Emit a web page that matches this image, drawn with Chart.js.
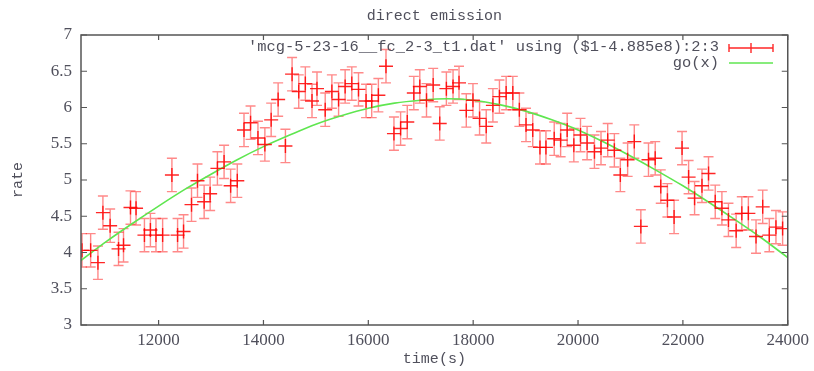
<!DOCTYPE html>
<html>
<head>
<meta charset="utf-8">
<script src="https://cdn.jsdelivr.net/npm/chart.js@4/dist/chart.umd.min.js"></script>
<style>
  html, body { margin: 0; padding: 0; background: #fff; }
  #wrap { width: 814px; height: 371px; }
</style>
</head>
<body>
<div id="wrap"><canvas id="c" width="814" height="371"></canvas></div>
<script>
// ---- data ----
const chartTitle = 'direct emission';
const xAxisTitle = 'time(s)';
const yAxisTitle = 'rate';
const legendLabels = ["'mcg-5-23-16__fc_2-3_t1.dat' using ($1-4.885e8):2:3", 'go(x)'];

const timeValues = [
  10539, 10704, 10843, 10938, 11076, 11236, 11331, 11464, 11570, 11730, 11844, 11950, 12077, 12254, 12362, 12476, 12628, 12742,
  12869, 12983, 13122, 13249, 13374, 13501, 13629, 13754, 13895, 14027, 14147, 14280, 14419, 14546, 14673, 14799, 14926, 15021,
  15178, 15305, 15433, 15558, 15685, 15813, 15957, 16065, 16192, 16337, 16489, 16616, 16743, 16868, 16982, 17110, 17237,
  17362, 17489, 17616, 17730, 17869, 17996, 18122, 18249, 18376, 18501, 18629, 18756, 18881, 19008, 19136, 19274, 19388, 19546,
  19668, 19793, 19920, 20047, 20173, 20313, 20438, 20566, 20693, 20807, 20946, 21073, 21198, 21344, 21472, 21578, 21705, 21832,
  21984, 22109, 22223, 22364, 22489, 22617, 22744, 22869, 23016, 23124, 23249, 23395, 23522, 23648, 23775, 23902
];
const rateValues = [
  4.03, 4.03, 3.86, 4.55, 4.37, 4.05, 4.10, 4.62, 4.61, 4.24, 4.31, 4.24, 4.24, 5.07, 4.24, 4.29, 4.66, 4.99,
  4.70, 4.81, 5.16, 5.25, 4.92, 4.99, 5.69, 5.79, 5.58, 5.49, 5.83, 6.11, 5.47, 6.46, 6.22, 6.33, 6.09, 6.26,
  5.97, 6.22, 6.11, 6.29, 6.33, 6.25, 6.09, 6.09, 6.17, 6.57, 5.64, 5.71, 5.80, 6.20, 6.29, 6.10, 6.31,
  5.78, 6.26, 6.29, 6.34, 5.96, 6.10, 5.85, 5.74, 6.03, 6.15, 6.20, 6.20, 5.97, 5.76, 5.69, 5.45, 5.45, 5.57,
  5.55, 5.69, 5.48, 5.62, 5.51, 5.39, 5.44, 5.55, 5.41, 5.07, 5.28, 5.53, 4.36, 5.28, 5.30, 4.91, 4.72, 4.49,
  5.44, 5.04, 4.75, 4.92, 5.09, 4.70, 4.61, 4.45, 4.30, 4.54, 4.54, 4.22, 4.63, 4.24, 4.35, 4.33
];
const rateError = 0.23;

const fitTimes = [10500, 11000, 11500, 12000, 12500, 13000, 13500, 14000, 14500, 15000, 15500, 16000, 16500, 17000,
  17500, 18000, 18500, 19000, 19500, 20000, 20500, 21000, 21500, 22000, 22500, 23000, 23500, 24000];
const fitValues = [3.88, 4.15, 4.40, 4.64, 4.87, 5.08, 5.28, 5.46, 5.62, 5.77, 5.89, 5.99, 6.06, 6.10,
  6.12, 6.10, 6.04, 5.95, 5.83, 5.69, 5.52, 5.33, 5.13, 4.92, 4.69, 4.45, 4.20, 3.93];

const xTickValues = [12000, 14000, 16000, 18000, 20000, 22000, 24000];
const yTickValues = [3, 3.5, 4, 4.5, 5, 5.5, 6, 6.5, 7];
const xRange = [10520, 24000];
const yRange = [3, 7];

// ---- styles ----
const RED = 'rgba(255,0,0,0.85)';
const RED_BAR = 'rgba(255,20,20,0.5)';
const GREEN = 'rgb(95,230,80)';
const TEXT = '#50505c';
const MONO = '"Liberation Mono", "DejaVu Sans Mono", monospace';
const SERIF = '"Liberation Serif", "DejaVu Serif", serif';

const errorBars = {
  id: 'errorBars',
  beforeDatasetsDraw(chart) {
    const {ctx, chartArea: a, scales: {x, y}} = chart;
    ctx.save();
    ctx.beginPath(); ctx.rect(a.left, a.top, a.right - a.left, a.bottom - a.top); ctx.clip();
    ctx.strokeStyle = RED_BAR; ctx.lineWidth = 1.4;
    timeValues.forEach((t, i) => {
      const px = x.getPixelForValue(t);
      const top = y.getPixelForValue(rateValues[i] + rateError);
      const bot = y.getPixelForValue(rateValues[i] - rateError);
      ctx.beginPath();
      ctx.moveTo(px, top); ctx.lineTo(px, bot);
      ctx.moveTo(px - 5, top); ctx.lineTo(px + 5, top);
      ctx.moveTo(px - 5, bot); ctx.lineTo(px + 5, bot);
      ctx.stroke();
    });
    ctx.restore();
  }
};

const frame = {
  id: 'frame',
  afterDraw(chart) {
    const {ctx, chartArea: a, scales: {x, y}} = chart;
    ctx.save();
    ctx.strokeStyle = '#555'; ctx.lineWidth = 1.5;
    ctx.strokeRect(a.left, a.top, a.right - a.left, a.bottom - a.top);
    ctx.lineWidth = 1.2;
    ctx.beginPath();
    xTickValues.forEach(v => {
      const px = x.getPixelForValue(v);
      ctx.moveTo(px, a.bottom); ctx.lineTo(px, a.bottom - 5);
      ctx.moveTo(px, a.top); ctx.lineTo(px, a.top + 5);
    });
    yTickValues.forEach(v => {
      const py = y.getPixelForValue(v);
      ctx.moveTo(a.left, py); ctx.lineTo(a.left + 6, py);
      ctx.moveTo(a.right, py); ctx.lineTo(a.right - 6, py);
    });
    ctx.stroke();

    // title, centred over the plot area
    ctx.fillStyle = TEXT;
    ctx.font = '15px ' + MONO;
    ctx.textAlign = 'center'; ctx.textBaseline = 'middle';
    ctx.fillText(chartTitle, (a.left + a.right) / 2, 16);

    // key
    ctx.font = '15.4px ' + MONO;
    ctx.textAlign = 'right';
    ctx.fillText(legendLabels[0], 719, 47);
    ctx.fillText(legendLabels[1], 719, 63);
    ctx.strokeStyle = RED; ctx.lineWidth = 1.4;
    ctx.beginPath();
    ctx.moveTo(729, 48); ctx.lineTo(773, 48);
    ctx.moveTo(729, 44); ctx.lineTo(729, 52);
    ctx.moveTo(773, 44); ctx.lineTo(773, 52);
    ctx.moveTo(751, 43); ctx.lineTo(751, 53);
    ctx.stroke();
    ctx.strokeStyle = GREEN; ctx.lineWidth = 1.6;
    ctx.beginPath(); ctx.moveTo(729, 63); ctx.lineTo(773, 63); ctx.stroke();
    ctx.restore();
  }
};

new Chart(document.getElementById('c'), {
  type: 'scatter',
  data: {
    datasets: [
      {
        label: legendLabels[0],
        data: timeValues.map((t, i) => ({x: t, y: rateValues[i]})),
        pointStyle: 'cross', pointRadius: 7, pointBorderWidth: 1.4,
        borderColor: RED, backgroundColor: RED, showLine: false
      },
      {
        type: 'line',
        label: legendLabels[1],
        data: fitTimes.map((t, i) => ({x: t, y: fitValues[i]})),
        borderColor: GREEN, borderWidth: 1.6, pointRadius: 0,
        cubicInterpolationMode: 'monotone', fill: false
      }
    ]
  },
  options: {
    responsive: false, animation: false,
    layout: {padding: {left: 0, right: 23, top: 35, bottom: 0}},
    plugins: {
      legend: {display: false},
      tooltip: {enabled: false},
      title: {display: false}
    },
    scales: {
      x: {
        type: 'linear', min: xRange[0], max: xRange[1],
        afterBuildTicks: s => { s.ticks = xTickValues.map(v => ({value: v})); },
        afterFit: s => { s.height = 46; },
        grid: {display: false, drawTicks: false},
        border: {display: false},
        ticks: {color: TEXT, font: {family: SERIF, size: 17}, padding: 5, maxRotation: 0, autoSkip: false,
                callback: v => String(v)},
        title: {display: true, text: xAxisTitle, color: TEXT, font: {family: MONO, size: 15}, padding: {top: 0, bottom: 3}}
      },
      y: {
        type: 'linear', min: yRange[0], max: yRange[1],
        afterBuildTicks: s => { s.ticks = yTickValues.map(v => ({value: v})); },
        afterFit: s => { s.width = 81; },
        grid: {display: false, drawTicks: false},
        border: {display: false},
        ticks: {color: TEXT, font: {family: SERIF, size: 17}, padding: 9, autoSkip: false,
                callback: v => String(v)},
        title: {display: true, text: yAxisTitle, color: TEXT, font: {family: MONO, size: 15}, padding: {top: 9, bottom: 0}}
      }
    }
  },
  plugins: [errorBars, frame]
});
</script>
</body>
</html>
